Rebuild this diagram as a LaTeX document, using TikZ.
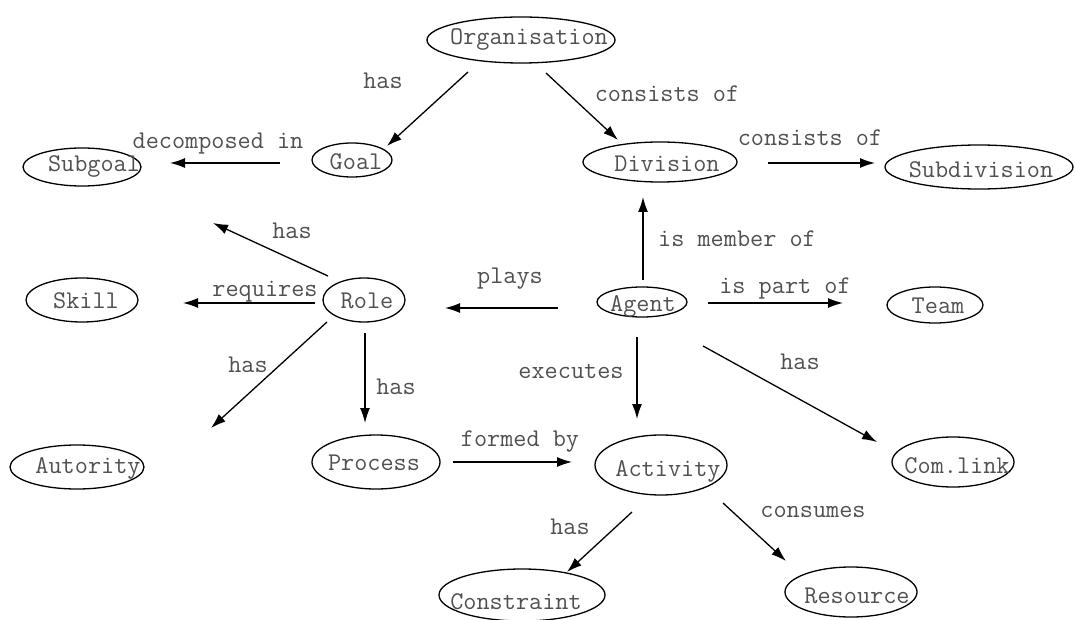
\documentclass[tikz,border=0pt]{standalone}
\usetikzlibrary{arrows.meta,calc}
\definecolor{txtgray}{RGB}{80,80,80}
\tikzset{
  ent/.style={draw=black, line width=1.3pt, ellipse, inner sep=0pt},
  txt/.style={anchor=base, inner sep=0pt, text=txtgray, font=\ttfamily\fontsize{25.5}{29}\selectfont},
  arr/.style={draw=black, line width=1.3pt, -{Latex[length=15pt,width=10pt]}},
}
\usetikzlibrary{shapes.geometric}
\begin{document}
\begin{tikzpicture}[x=1pt,y=-1pt]
\useasboundingbox (0,0) rectangle (1075,620);
% entities
\node[ent, minimum width=188, minimum height=46] (org) at (521,40) {};
\node[txt] (orgT) at (529,45) {Organisation};
\node[ent, minimum width=80, minimum height=34] (goal) at (352,160) {};
\node[txt] (goalT) at (356,170) {Goal};
\node[ent, minimum width=118, minimum height=38] (subgoal) at (82,167) {};
\node[txt] (subgoalT) at (94,172) {Subgoal};
\node[ent, minimum width=154, minimum height=40] (div) at (660,162) {};
\node[txt] (divT) at (667,172) {Division};
\node[ent, minimum width=188, minimum height=44] (subdiv) at (979,167) {};
\node[txt] (subdivT) at (981,178) {Subdivision};
\node[ent, minimum width=112, minimum height=44] (skill) at (82,300) {};
\node[txt] (skillT) at (86,308) {Skill};
\node[ent, minimum width=82, minimum height=44] (role) at (364,300) {};
\node[txt] (roleT) at (367,308) {Role};
\node[ent, minimum width=90, minimum height=30] (agent) at (642,302) {};
\node[txt] (agentT) at (643,311) {Agent};
\node[ent, minimum width=96, minimum height=36] (team) at (935,305) {};
\node[txt] (teamT) at (938,313) {Team};
\node[ent, minimum width=134, minimum height=44] (aut) at (77,467) {};
\node[txt] (autT) at (88,473) {Autority};
\node[ent, minimum width=128, minimum height=54] (proc) at (376,462) {};
\node[txt] (procT) at (374,470) {Process};
\node[ent, minimum width=132, minimum height=60] (act) at (661,465) {};
\node[txt] (actT) at (668,476) {Activity};
\node[ent, minimum width=122, minimum height=50] (com) at (953,462) {};
\node[txt] (comT) at (957,473) {Com.link};
\node[ent, minimum width=166, minimum height=52] (cons) at (522,595) {};
\node[txt] (consT) at (516,609) {Constraint};
\node[ent, minimum width=132, minimum height=50] (res) at (851,592) {};
\node[txt] (resT) at (857,603) {Resource};
% free ends
\coordinate (roleHas) at (213,223);
% connectors
\draw[arr] ($(org)+(-53,32)$) -- ($(goal)+(35,-14)$);
\draw[arr] ($(org)+(25,33)$) -- ($(div)+(-42,-22)$);
\draw[arr] ($(goal)+(-72,3)$) -- ($(subgoal)+(88,-4)$);
\draw[arr] ($(div)+(108,1)$) -- ($(subdiv)+(-104,-4)$);
\draw[arr] ($(agent)+(1,-22)$) -- ($(div)+(-17,35)$);
\draw[arr] ($(agent)+(66,1)$) -- ($(team)+(-92,-2)$);
\draw[arr] ($(agent)+(-84,6)$) -- ($(role)+(81,8)$);
\draw[arr] ($(role)+(-36,-24)$) -- (roleHas);
\draw[arr] ($(role)+(-49,3)$) -- ($(skill)+(101,3)$);
\draw[arr] ($(role)+(-37,22)$) -- ($(aut)+(134,-39)$);
\draw[arr] ($(role)+(1,33)$) -- ($(proc)+(-11,-39)$);
\draw[arr] ($(proc)+(77,0)$) -- ($(act)+(-89,-3)$);
\draw[arr] ($(agent)+(-5,35)$) -- ($(act)+(-24,-46)$);
\draw[arr] ($(agent)+(61,44)$) -- ($(com)+(-76,-20)$);
\draw[arr] ($(act)+(-29,47)$) -- ($(cons)+(45,-23)$);
\draw[arr] ($(act)+(62,38)$) -- ($(res)+(-65,-31)$);
% labels
\node[txt] (l1) at (383,89) {has};
\node[txt] (l2) at (667,102) {consists of};
\node[txt] (l3) at (218,149) {decomposed in};
\node[txt] (l4) at (810,146) {consists of};
\node[txt] (l5) at (737,247) {is member of};
\node[txt] (l6) at (785,293) {is part of};
\node[txt] (l7) at (510,283) {plays};
\node[txt] (l8) at (292,238) {has};
\node[txt] (l9) at (265,296) {requires};
\node[txt] (l10) at (248,372) {has};
\node[txt] (l11) at (396,394) {has};
\node[txt] (l12) at (520,446) {formed by};
\node[txt] (l13) at (571,378) {executes};
\node[txt] (l14) at (800,369) {has};
\node[txt] (l15) at (570,534) {has};
\node[txt] (l16) at (813,517) {consumes};
\end{tikzpicture}
\end{document}
